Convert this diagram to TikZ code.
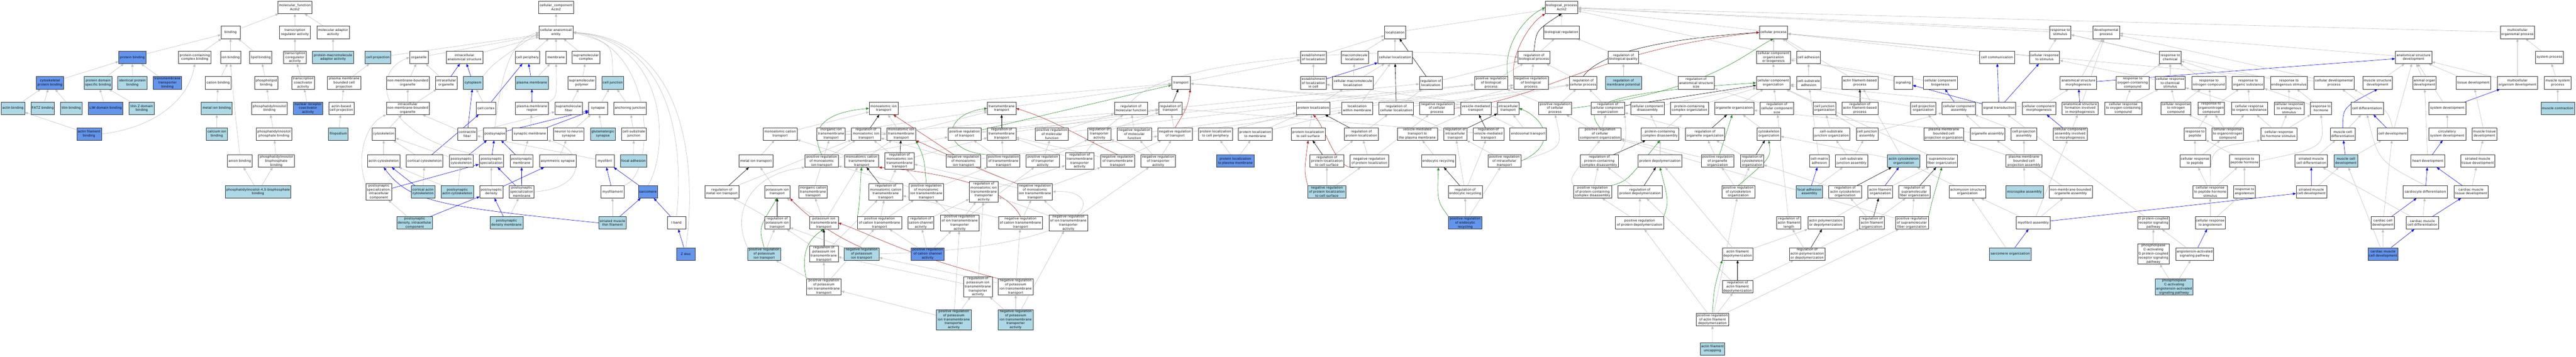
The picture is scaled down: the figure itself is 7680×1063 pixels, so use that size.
\documentclass[tikz,border=0pt]{standalone}
\usepackage{fontspec}
\newfontfamily\nf[LetterSpace=6]{Liberation Sans}
\usetikzlibrary{arrows.meta,backgrounds}
\definecolor{lb}{HTML}{ADD8E6}
\definecolor{db}{HTML}{6495ED}
\definecolor{egc}{HTML}{BEBEBE}
\definecolor{ebc}{HTML}{0000FF}
\definecolor{egn}{HTML}{228B22}
\definecolor{erc}{HTML}{B22222}
\tikzset{
 nb/.style={draw=black!80, line width=0.9pt, inner xsep=1pt, inner ysep=1.5pt, minimum height=37pt, align=center, font=\nf\fontsize{10}{12}\selectfont},
 W/.style={nb,fill=white}, L/.style={nb,fill=lb}, D/.style={nb,fill=db},
 ar/.style={line width=0.9pt,-{Triangle[length=9pt,width=7pt]}},
 eg/.style={ar,draw=egc}, ebl/.style={ar,draw=ebc}, ebk/.style={ar,draw=black},
 egr/.style={ar,draw=egn}, erd/.style={ar,draw=erc}
}
\newcommand\Nd[5]{\node[#5,minimum width=#4pt] (#1) at (#2,#3)}
\newcommand\EGy[2]{\draw[eg] (#1) -- (#2);}
\newcommand\EBl[2]{\draw[ebl] (#1) -- (#2);}
\newcommand\EBk[2]{\draw[ebk] (#1) -- (#2);}
\newcommand\EGn[2]{\draw[egr] (#1) -- (#2);}
\newcommand\ERd[2]{\draw[erd] (#1) -- (#2);}
\begin{document}
\begin{tikzpicture}[x=1pt,y=-1pt]
\useasboundingbox (0,0) rectangle (7680,1063);
% ---------- MF ----------
\Nd{mf}{879}{22}{101}{W}{molecular\_function\\Actn2};
\Nd{bind}{687.4}{96.5}{56.3}{W}{binding};
\Nd{trra}{879.2}{96.5}{91.4}{W}{transcription\\regulator activity};
\Nd{moad}{993}{96.5}{97}{W}{molecular adaptor\\activity};
\Nd{pb}{394.7}{171}{80.8}{D}{protein binding};
\Nd{pcb}{580.6}{171}{96.8}{W}{protein-containing\\complex binding};
\Nd{ionb}{687.4}{171}{60.5}{W}{ion binding};
\Nd{lipb}{777.6}{171}{66.1}{W}{lipid binding};
\Nd{trcr}{879.2}{171}{67.7}{W}{transcription\\coregulator\\activity};
\Nd{pmaa}{993}{171}{122.5}{L}{protein-macromolecule\\adaptor activity};
\Nd{cpb}{148.8}{247}{80.4}{D}{cytoskeletal\\protein binding};
\Nd{pdsb}{292.3}{247}{82.5}{L}{protein domain\\specific binding};
\Nd{ipb}{394.9}{247}{87}{L}{identical protein\\binding};
\Nd{ttb}{499.3}{247}{84.6}{D}{transmembrane\\transporter\\binding};
\Nd{catb}{650.4}{247}{76.4}{W}{cation binding};
\Nd{phlb}{793.9}{247}{68.6}{W}{phospholipid\\binding};
\Nd{trca}{903.7}{247}{67.8}{W}{transcription\\coactivator\\activity};
\Nd{actb}{38.6}{323}{70.6}{L}{actin binding};
\Nd{fatz}{127.2}{323}{68.9}{L}{FATZ binding};
\Nd{titb}{212.3}{323}{64.5}{L}{titin binding};
\Nd{limb}{314.7}{323}{102.8}{D}{LIM domain binding};
\Nd{tzb}{422.5}{323}{75.9}{L}{titin Z domain\\binding};
\Nd{mib}{646.1}{323}{92.2}{L}{metal ion binding};
\Nd{pib}{803.3}{323}{106.9}{W}{phosphatidylinositol\\binding};
\Nd{nrca}{918.4}{323}{86.5}{D}{nuclear receptor\\coactivator\\activity};
\Nd{cab}{646.4}{399.5}{62.5}{L}{calcium ion\\binding};
\Nd{afb}{265.5}{399.5}{73.8}{D}{actin filament\\binding};
\Nd{pipb}{816.8}{399.5}{106.9}{W}{phosphatidylinositol\\phosphate binding};
\Nd{anb}{714.9}{480}{73}{W}{anion binding};
\Nd{pip2b}{823.9}{480}{107.4}{W}{phosphatidylinositol\\bisphosphate\\binding};
\Nd{pi45b}{769.4}{572}{195.9}{L}{phosphatidylinositol-4,5-bisphosphate\\binding};
% ---------- CC ----------
\Nd{cc}{1657.8}{22}{103.3}{W}{cellular\_component\\Actn2};
\Nd{cae}{1657.6}{96.5}{100.5}{W}{cellular anatomical\\entity};
\Nd{cproj}{1126.6}{171}{75.9}{L}{cell projection};
\Nd{org}{1249}{171}{55.5}{W}{organelle};
\Nd{ias}{1384.7}{171}{109}{W}{intracellular\\anatomical structure};
\Nd{cper}{1572.7}{171}{72.7}{W}{cell periphery};
\Nd{memb}{1658}{171}{60.4}{W}{membrane};
\Nd{smc}{1747}{171}{82.5}{W}{supramolecular\\complex};
\Nd{pmbcp}{1025.9}{247}{99.2}{W}{plasma membrane\\bounded cell\\projection};
\Nd{nmbo}{1215.5}{247}{127.4}{W}{non-membrane-bounded\\organelle};
\Nd{iorg}{1330.4}{247}{64}{W}{intracellular\\organelle};
\Nd{cyto}{1410.2}{247}{58}{L}{cytoplasm};
\Nd{pm}{1585.7}{247}{98.8}{L}{plasma membrane};
\Nd{smp}{1734.7}{247}{82.4}{W}{supramolecular\\polymer};
\Nd{cj}{1826.8}{247}{65.7}{L}{cell junction};
\Nd{abcp}{1017.6}{323}{75.9}{W}{actin-based\\cell projection};
\Nd{inmbo}{1215.5}{323}{127.4}{W}{intracellular\\non-membrane-bounded\\organelle};
\Nd{ccor}{1449.2}{323}{57.6}{W}{cell cortex};
\Nd{pmr}{1585.9}{323}{99.2}{W}{plasma membrane\\region};
\Nd{smf}{1695.7}{323}{82}{W}{supramolecular\\fiber};
\Nd{syn}{1782.9}{323}{55.5}{W}{synapse};
\Nd{anj}{1878.4}{323}{97.1}{W}{anchoring junction};
\Nd{filo}{1008.6}{399.5}{58}{L}{filopodium};
\Nd{cysk}{1143.9}{399.5}{69.8}{W}{cytoskeleton};
\Nd{cfib}{1392.9}{399.5}{57.5}{W}{contractile\\fiber};
\Nd{psyn}{1475.3}{399.5}{67.4}{W}{postsynapse};
\Nd{synm}{1579.8}{399.5}{104.9}{W}{synaptic membrane};
\Nd{n2n}{1695.7}{399.5}{91}{W}{neuron to neuron\\synapse};
\Nd{glut}{1797.4}{399.5}{74.7}{L}{glutamatergic\\synapse};
\Nd{csj}{1889.6}{399.5}{73.1}{W}{cell-substrate\\junction};
\Nd{acsk}{1143.9}{480}{97.6}{W}{actin cytoskeleton};
\Nd{ccsk}{1265.5}{480}{109.8}{W}{cortical cytoskeleton};
\Nd{pscsk}{1374.7}{480}{70.2}{W}{postsynaptic\\cytoskeleton};
\Nd{pss}{1464.9}{480}{73.4}{W}{postsynaptic\\specialization};
\Nd{psm}{1555.1}{480}{67.8}{W}{postsynaptic\\membrane};
\Nd{asyn}{1662.9}{480}{109.4}{W}{asymmetric synapse};
\Nd{myof}{1803.3}{480}{55.5}{W}{myofibril};
\Nd{fadh}{1888.6}{480}{78.4}{L}{focal adhesion};
\Nd{pssic}{1129.4}{572}{76.8}{W}{postsynaptic\\specialization,\\intracellular\\component};
\Nd{cacsk}{1260.9}{572}{70.3}{L}{cortical actin\\cytoskeleton};
\Nd{psacsk}{1363.3}{572}{97.1}{L}{postsynaptic\\actin cytoskeleton};
\Nd{psd}{1464.9}{572}{68.6}{W}{postsynaptic\\density};
\Nd{pssm}{1555.3}{572}{73.8}{W}{postsynaptic\\specialization\\membrane};
\Nd{myofil}{1826.1}{572}{68.6}{W}{myofilament};
\Nd{sarc}{1931.7}{572}{56.7}{D}{sarcomere};
\Nd{psdic}{1236.1}{664.5}{107.4}{L}{postsynaptic\\density, intracellular\\component};
\Nd{psdm}{1510}{664.5}{99.2}{L}{postsynaptic\\density membrane};
\Nd{smtf}{1826.1}{664.5}{82.4}{L}{striated muscle\\thin filament};
\Nd{iband}{2016.8}{664.5}{55.5}{W}{I band};
\Nd{zdisc}{2044.5}{757}{55.5}{D}{Z disc};
% ---------- BP transport ----------
\Nd{trn}{3520.8}{247}{55.6}{W}{transport};
\Nd{mit}{2634.5}{323}{86.2}{W}{monoatomic ion\\transport};
\Nd{tmt}{2986.2}{323}{84.9}{W}{transmembrane\\transport};
\Nd{rmf}{3371.8}{323}{98.8}{W}{regulation of\\molecular function};
\Nd{rtr}{3489}{323}{68.6}{W}{regulation of\\transport};
\Nd{mct}{2325.7}{399.5}{101.2}{W}{monoatomic cation\\transport};
\Nd{iitt}{2477.6}{399.5}{84.9}{W}{inorganic ion\\transmembrane\\transport};
\Nd{rmit}{2581.9}{399.5}{86.9}{W}{regulation of\\monoatomic ion\\transport};
\Nd{mitt}{2686.8}{399.5}{86.1}{W}{monoatomic ion\\transmembrane\\transport};
\Nd{prt}{2875.5}{399.5}{98}{W}{positive regulation\\of transport};
\Nd{rtmt}{2986.2}{399.5}{84.9}{W}{regulation of\\transmembrane\\transport};
\Nd{prmf}{3135.9}{399.5}{98.8}{W}{positive regulation\\of molecular\\function};
\Nd{rta}{3277.4}{399.5}{68.1}{W}{regulation of\\transporter\\activity};
\Nd{nrmf}{3382}{399.5}{102.9}{W}{negative regulation\\of molecular\\function};
\Nd{nrt}{3503.3}{399.5}{102.9}{W}{negative regulation\\of transport};
\Nd{plcp}{3623.5}{399.5}{100.8}{W}{protein localization\\to cell periphery};
\Nd{plm}{3742.3}{399.5}{100.9}{W}{protein localization\\to membrane};
\Nd{mitr}{2253.7}{480}{100.8}{W}{metal ion transport};
\Nd{prmit}{2449.8}{480}{98.8}{W}{positive regulation\\of monoatomic\\ion transport};
\Nd{mctt}{2568.8}{480}{101.6}{W}{monoatomic cation\\transmembrane\\transport};
\Nd{rmitt}{2681.7}{480}{86.5}{W}{regulation of\\monoatomic ion\\transmembrane\\transport};
\Nd{nrmit}{2872.3}{480}{102.1}{W}{negative regulation\\of monoatomic\\ion transport};
\Nd{prtmt}{2991.6}{480}{98.4}{W}{positive regulation\\of transmembrane\\transport};
\Nd{prta}{3108.6}{480}{98.8}{W}{positive regulation\\of transporter\\activity};
\Nd{rtta}{3218.8}{480}{84.9}{W}{regulation of\\transmembrane\\transporter\\activity};
\Nd{nrtmt}{3332}{480}{102.5}{W}{negative regulation\\of transmembrane\\transport};
\Nd{nrta}{3453}{480}{102.9}{W}{negative regulation\\of transporter\\activity};
\Nd{plpm}{3683}{480}{113.1}{D}{protein localization\\to plasma membrane};
\Nd{rmitr}{2152}{572}{100.8}{W}{regulation of\\metal ion transport};
\Nd{kit}{2317.1}{572}{75.9}{W}{potassium ion\\transport};
\Nd{ictt}{2423.8}{572}{85.3}{W}{inorganic cation\\transmembrane\\transport};
\Nd{rmctt}{2640.6}{572}{100.8}{W}{regulation of\\monoatomic cation\\transmembrane\\transport};
\Nd{prmitt}{2761.6}{572}{102.9}{W}{positive regulation\\of monoatomic\\ion transmembrane\\transport};
\Nd{rmitta}{2933}{572}{86.5}{W}{regulation of\\monoatomic ion\\transmembrane\\transporter\\activity};
\Nd{nrmitt}{3085.7}{572}{103.7}{W}{negative regulation\\of monoatomic\\ion transmembrane\\transport};
\Nd{rkit}{2317.1}{664.5}{75.9}{W}{regulation of\\potassium ion\\transport};
\Nd{kitt}{2456.1}{664.5}{85.3}{W}{potassium ion\\transmembrane\\transport};
\Nd{prctt}{2622.2}{664.5}{131.1}{W}{positive regulation\\of cation transmembrane\\transport};
\Nd{rcca}{2745.1}{664.5}{78}{W}{regulation of\\cation channel\\activity};
\Nd{pritta}{2861.2}{664.5}{115.9}{W}{positive regulation\\of ion transmembrane\\transporter\\activity};
\Nd{nrctt}{3042.6}{664.5}{131.1}{W}{negative regulation\\of cation transmembrane\\transport};
\Nd{nritta}{3185.3}{664.5}{116}{W}{negative regulation\\of ion transmembrane\\transporter\\activity};
\Nd{prkit}{2278.3}{757}{97.9}{L}{positive regulation\\of potassium\\ion transport};
\Nd{rkitt}{2456.1}{757}{85.3}{W}{regulation of\\potassium ion\\transmembrane\\transport};
\Nd{nrkit}{2568.9}{757}{103.8}{L}{negative regulation\\of potassium\\ion transport};
\Nd{prcca}{2765.7}{757}{98.8}{D}{positive regulation\\of cation channel\\activity};
\Nd{prkitt}{2456.1}{855}{103.3}{W}{positive regulation\\of potassium\\ion transmembrane\\transport};
\Nd{rkitta}{2915.5}{855}{85}{W}{regulation of\\potassium ion\\transmembrane\\transporter\\activity};
\Nd{nrkitt}{3028.1}{855}{103.7}{W}{negative regulation\\of potassium\\ion transmembrane\\transport};
\Nd{prkitta}{2843.6}{953}{103.7}{L}{positive regulation\\of potassium\\ion transmembrane\\transporter\\activity};
\Nd{nrkitta}{3028.1}{953}{103.7}{L}{negative regulation\\of potassium\\ion transmembrane\\transporter\\activity};
% ---------- localization ----------
\Nd{loc}{4159}{96.5}{62.4}{W}{localization};
\Nd{eloc}{3915.7}{171}{76.3}{W}{establishment\\of localization};
\Nd{mml}{4039}{171}{82}{W}{macromolecule\\localization};
\Nd{cloc}{4159}{171}{102.4}{W}{cellular localization};
\Nd{elic}{3915.7}{247}{76.3}{W}{establishment\\of localization\\in cell};
\Nd{cmml}{4033.7}{247}{121.2}{W}{cellular macromolecule\\localization};
\Nd{rloc}{4265.5}{247}{68.2}{W}{regulation of\\localization};
\Nd{prbp}{4445.3}{247}{98.8}{W}{positive regulation\\of biological\\process};
\Nd{ploc}{3914.9}{323}{100.8}{W}{protein localization};
\Nd{lwm}{4045.9}{323}{92.6}{W}{localization\\within membrane};
\Nd{rcloc}{4162.9}{323}{102.9}{W}{regulation of\\cellular localization};
\Nd{nrcp}{4284.1}{323}{102.8}{W}{negative regulation\\of cellular\\process};
\Nd{vmt}{4400}{323}{90.6}{W}{vesicle-mediated\\transport};
\Nd{ict}{4496.4}{323}{63.7}{W}{intracellular\\transport};
\Nd{plcs}{3900.2}{399.5}{100.8}{W}{protein localization\\to cell surface};
\Nd{rploc}{4058.6}{399.5}{100.8}{W}{regulation of\\protein localization};
\Nd{vmtpm}{4225.5}{399.5}{119.6}{W}{vesicle-mediated\\transport to\\the plasma membrane};
\Nd{rict}{4338.6}{399.5}{68.2}{W}{regulation of\\intracellular\\transport};
\Nd{rvmt}{4437.4}{399.5}{91.9}{W}{regulation of\\vesicle-mediated\\transport};
\Nd{rplcs}{3955.9}{480}{101.2}{W}{regulation of\\protein localization\\to cell surface};
\Nd{nrploc}{4082.3}{480}{113.9}{W}{negative regulation\\of protein localization};
\Nd{endr}{4288.4}{480}{101.6}{W}{endocytic recycling};
\Nd{prict}{4485.1}{480}{98.4}{W}{positive regulation\\of intracellular\\transport};
\Nd{nrplcs}{3956}{572}{113.5}{L}{negative regulation\\of protein localization\\to cell surface};
\Nd{rendr}{4368.2}{572}{101.2}{W}{regulation of\\endocytic recycling};
\Nd{prendr}{4368.2}{664.5}{98.8}{D}{positive regulation\\of endocytic\\recycling};
% ---------- regulation ----------
\Nd{bp}{4655.7}{22}{96.8}{W}{biological\_process\\Actn2};
\Nd{breg}{4655.1}{96.5}{107}{W}{biological regulation};
\Nd{rbp}{4573.3}{171}{94.3}{W}{regulation of\\biological process};
\Nd{rbq}{4840}{171}{90.6}{W}{regulation of\\biological quality};
\Nd{nrbp}{4564.1}{247}{102.8}{W}{negative regulation\\of biological\\process};
\Nd{rcp}{4720}{247}{82.4}{W}{regulation of\\cellular process};
\Nd{rmp}{4840}{247}{107}{L}{regulation of\\membrane potential};
\Nd{rass}{5056.7}{247}{108.6}{W}{regulation of\\anatomical structure\\size};
\Nd{prcp}{4636.1}{323}{98.4}{W}{positive regulation\\of cellular\\process};
\Nd{rcco}{4793.1}{323}{100.4}{W}{regulation of\\cellular component\\organization};
\Nd{ccd}{4911.8}{323}{100.4}{W}{cellular component\\disassembly};
\Nd{pcco}{5037}{323}{113.1}{W}{protein-containing\\complex organization};
\Nd{oo}{5170.2}{323}{116.8}{W}{organelle organization};
\Nd{endt}{4555.9}{399.5}{109.4}{W}{endosomal transport};
\Nd{prcco}{4770.2}{399.5}{125.7}{W}{positive regulation\\of cellular\\component organization};
\Nd{pccd}{4948.8}{399.5}{113.1}{W}{protein-containing\\complex disassembly};
\Nd{roo}{5083.3}{399.5}{117.5}{W}{regulation of\\organelle organization};
\Nd{rpccd}{4768.2}{480}{113.5}{W}{regulation of\\protein-containing\\complex disassembly};
\Nd{pdep}{4948.8}{480}{131}{W}{protein depolymerization};
\Nd{proo}{5120.4}{480}{97.2}{W}{positive regulation\\of organelle\\organization};
\Nd{prpccd}{4747.8}{572}{113.5}{W}{positive regulation\\of protein-containing\\complex disassembly};
\Nd{rpdep}{4889.4}{572}{131.4}{W}{regulation of\\protein depolymerization};
\Nd{prpdep}{4888.2}{664.5}{143.7}{W}{positive regulation\\of protein depolymerization};
\Nd{prafd}{5105.3}{953}{98}{W}{positive regulation\\of actin filament\\depolymerization};
\Nd{afu}{5105.5}{1040}{73}{L}{actin filament\\uncapping};
% ---------- cellular process ----------
\Nd{cp}{5287.4}{96.5}{83.3}{W}{cellular process};
\Nd{rts}{6142}{96.5}{63.7}{W}{response to\\stimulus};
\Nd{devp}{6279.2}{96.5}{80}{W}{developmental\\process};
\Nd{ccob}{5287.4}{171}{101.3}{W}{cellular component\\organization\\or biogenesis};
\Nd{cadh}{5391.9}{171}{70.3}{W}{cell adhesion};
\Nd{ccom}{5953.9}{171}{103.7}{W}{cell communication};
\Nd{crs}{6095.5}{171}{89.8}{W}{cellular response\\to stimulus};
\Nd{cco}{5286.5}{247}{101}{W}{cellular component\\organization};
\Nd{csadh}{5392.3}{247}{72.7}{W}{cell-substrate\\adhesion};
\Nd{afbp}{5544.9}{247}{107}{W}{actin filament-based\\process};
\Nd{sig}{5674.3}{247}{55.5}{W}{signaling};
\Nd{ccb}{5784.9}{247}{100.4}{W}{cellular component\\biogenesis};
\Nd{asm}{6196.3}{247}{108.6}{W}{anatomical structure\\morphogenesis};
\Nd{rocc}{6358}{247}{97.1}{W}{response to\\oxygen-containing\\compound};
\Nd{rccs}{5297.6}{323}{100.5}{W}{regulation of\\cellular component\\size};
\Nd{cjo}{5439.2}{323}{67}{W}{cell junction\\organization};
\Nd{rafbp}{5544.9}{323}{107}{W}{regulation of\\actin filament-based\\process};
\Nd{cpo}{5733.9}{323}{75.1}{W}{cell projection\\organization};
\Nd{cca}{5840}{323}{99.6}{W}{cellular component\\assembly};
\Nd{st}{5959.6}{323}{100.4}{W}{signal transduction};
\Nd{ccm}{6078.8}{323}{100.4}{W}{cellular component\\morphogenesis};
\Nd{asfm}{6201.3}{323}{106.9}{W}{anatomical structure\\formation involved\\in morphogenesis};
\Nd{crocc}{6330.2}{323}{110.2}{W}{cellular response\\to oxygen-containing\\compound};
\Nd{csko}{5273.5}{399.5}{70.2}{W}{cytoskeleton\\organization};
\Nd{csjo}{5460}{399.5}{110.2}{W}{cell-substrate\\junction organization};
\Nd{cja}{5566.2}{399.5}{64.5}{W}{cell junction\\assembly};
\Nd{pmbcpo}{5795.1}{399.5}{119.2}{W}{plasma membrane\\bounded cell\\projection organization};
\Nd{oa}{5925.7}{399.5}{102.8}{W}{organelle assembly};
\Nd{cpa}{6033.9}{399.5}{75.9}{W}{cell projection\\assembly};
\Nd{ccaim}{6171.8}{399.5}{100.4}{W}{cellular component\\assembly involved\\in morphogenesis};
\Nd{rcsko}{5223.7}{480}{68.6}{W}{regulation of\\cytoskeleton\\organization};
\Nd{cmadh}{5424.1}{480}{59.6}{W}{cell-matrix\\adhesion};
\Nd{csja}{5520}{480}{96.4}{W}{cell-substrate\\junction assembly};
\Nd{acsko}{5675.5}{480}{97}{L}{actin cytoskeleton\\organization};
\Nd{smfo}{5789.4}{480}{93}{W}{supramolecular\\fiber organization};
\Nd{pmbcpa}{6034.3}{480}{107.8}{W}{plasma membrane\\bounded cell\\projection assembly};
\Nd{prcsko}{5182.5}{572}{98.7}{W}{positive regulation\\of cytoskeleton\\organization};
\Nd{faa}{5394.3}{572}{78.4}{L}{focal adhesion\\assembly};
\Nd{racsko}{5500.8}{572}{97.2}{W}{regulation of\\actin cytoskeleton\\organization};
\Nd{afo}{5605.7}{572}{73.4}{W}{actin filament\\organization};
\Nd{rsmfo}{5707}{572}{93.1}{W}{regulation of\\supramolecular\\fiber organization};
\Nd{aso}{5865.7}{572}{110.2}{W}{actomyosin structure\\organization};
\Nd{msa}{6035.5}{572}{111.8}{L}{microspike assembly};
\Nd{nmboa}{6173.5}{572}{128.2}{W}{non-membrane-bounded\\organelle assembly};
\Nd{rafl}{5333}{664.5}{71.9}{W}{regulation of\\actin filament\\length};
\Nd{apd}{5443.3}{664.5}{107.7}{W}{actin polymerization\\or depolymerization};
\Nd{rafo}{5580.9}{664.5}{74.3}{W}{regulation of\\actin filament\\organization};
\Nd{prsmfo}{5700}{664.5}{98.8}{W}{positive regulation\\of supramolecular\\fiber organization};
\Nd{mfa}{6061.6}{664.5}{100.4}{W}{myofibril assembly};
\Nd{gpcr}{6420}{664.5}{93.9}{W}{G protein-coupled\\receptor signaling\\pathway};
\Nd{afd}{5180.4}{757}{91.4}{W}{actin filament\\depolymerization};
\Nd{rapd}{5387.8}{757}{106.1}{W}{regulation of\\actin polymerization\\or depolymerization};
\Nd{sarco}{5993}{757}{123.3}{L}{sarcomere organization};
\Nd{plcg}{6420}{757}{93.9}{W}{phospholipase\\C-activating\\G protein-coupled\\receptor signaling\\pathway};
\Nd{rafd}{5180.4}{855}{91.4}{W}{regulation of\\actin filament\\depolymerization};
% ---------- development / response ----------
\Nd{mop}{7505.3}{96.5}{102.8}{W}{multicellular\\organismal process};
\Nd{rchem}{6470.2}{171}{63.6}{W}{response to\\chemical};
\Nd{asd}{7195.5}{171}{108.6}{W}{anatomical structure\\development};
\Nd{sysp}{7600.8}{171}{83.2}{W}{system process};
\Nd{crcs}{6470.2}{247}{89.8}{W}{cellular response\\to chemical\\stimulus};
\Nd{rnc}{6585.3}{247}{101.2}{W}{response to\\nitrogen compound};
\Nd{ros}{6702.5}{247}{95.5}{W}{response to\\organic substance};
\Nd{res}{6824.1}{247}{110.2}{W}{response to\\endogenous stimulus};
\Nd{cdp}{6958.4}{247}{119.2}{W}{cellular developmental\\process};
\Nd{msd}{7088.2}{247}{88.1}{W}{muscle structure\\development};
\Nd{aod}{7228.2}{247}{69.4}{W}{animal organ\\development};
\Nd{td}{7373.9}{247}{102.9}{W}{tissue development};
\Nd{mod}{7505.3}{247}{120.8}{W}{multicellular\\organism development};
\Nd{msp}{7625.3}{247}{80}{W}{muscle system\\process};
\Nd{crnc}{6487.3}{323}{89.8}{W}{cellular response\\to nitrogen\\compound};
\Nd{ronc}{6592.3}{323}{79.1}{W}{response to\\organonitrogen\\compound};
\Nd{cros}{6706.1}{323}{107.8}{W}{cellular response\\to organic substance};
\Nd{cres}{6824.5}{323}{89.8}{W}{cellular response\\to endogenous\\stimulus};
\Nd{rhor}{6919.6}{323}{62.8}{W}{response to\\hormone};
\Nd{cdiff}{7057.2}{323}{96.3}{W}{cell differentiation};
\Nd{sysd}{7295.9}{323}{110.2}{W}{system development};
\Nd{mcon}{7625.3}{323}{99.6}{L}{muscle contraction};
\Nd{rpep}{6543.7}{399.5}{63.7}{W}{response to\\peptide};
\Nd{cronc}{6641.7}{399.5}{93.1}{W}{cellular response\\to organonitrogen\\compound};
\Nd{crhs}{6793.9}{399.5}{108.6}{W}{cellular response\\to hormone stimulus};
\Nd{mcd}{6984.5}{399.5}{75}{W}{muscle cell\\differentiation};
\Nd{cdev}{7133.1}{399.5}{89.8}{W}{cell development};
\Nd{csd}{7295.9}{399.5}{110.2}{W}{circulatory\\system development};
\Nd{mtd}{7407}{399.5}{74.3}{W}{muscle tissue\\development};
\Nd{crpep}{6544.1}{480}{90.6}{W}{cellular response\\to peptide};
\Nd{rph}{6691.4}{480}{89.8}{W}{response to\\peptide hormone};
\Nd{smcd}{6890.6}{480}{96.4}{W}{striated muscle\\cell differentiation};
\Nd{mcdev}{6993.9}{480}{69.4}{L}{muscle cell\\development};
\Nd{hd}{7238}{480}{100.4}{W}{heart development};
\Nd{smtd}{7386.6}{480}{102.1}{W}{striated muscle\\tissue development};
\Nd{crphs}{6589.4}{572}{102.8}{W}{cellular response\\to peptide hormone\\stimulus};
\Nd{rang}{6691.5}{572}{63.7}{W}{response to\\angiotensin};
\Nd{smcdev}{6891}{572}{90.6}{W}{striated muscle\\cell development};
\Nd{cardd}{7230.6}{572}{131.4}{W}{cardiocyte differentiation};
\Nd{cmtd}{7367}{572}{102.1}{W}{cardiac muscle\\tissue development};
\Nd{crang}{6589.4}{664.5}{89.8}{W}{cellular response\\to angiotensin};
\Nd{ccdev}{7104.1}{664.5}{69.4}{W}{cardiac cell\\development};
\Nd{cmcd}{7222}{664.5}{96.3}{W}{cardiac muscle\\cell differentiation};
\Nd{aasp}{6542.9}{757}{112.7}{W}{angiotensin-activated\\signaling pathway};
\Nd{cmcdev}{7104.5}{757}{89.8}{D}{cardiac muscle\\cell development};
\Nd{plcaa}{6481.7}{855}{112.7}{L}{phospholipase\\C-activating\\angiotensin-activated\\signaling pathway};
% ================= EDGES =================
\begin{pgfonlayer}{background}
\fill[white] (0,0) rectangle (7680,1063);
% MF
\EGy{bind}{mf} \EGy{trra}{mf} \EGy{moad}{mf}
\EGy{pb}{bind} \EGy{pcb}{bind} \EGy{ionb}{bind} \EGy{lipb}{bind}
\EGy{trcr}{trra} \EGy{pmaa}{moad}
\EGy{cpb}{pb} \EGy{pdsb}{pb} \EGy{ipb}{pb} \EGy{ttb}{pb}
\EGy{catb}{ionb} \EGy{phlb}{lipb} \EGy{trca}{trcr}
\EGy{actb}{cpb} \EGy{fatz}{cpb} \EGy{titb}{cpb}
\EGy{limb}{pdsb} \EGy{tzb}{pdsb}
\EGy{mib}{catb} \EGy{pib}{phlb} \EGy{nrca}{trca}
\EGy{cab}{mib} \EGy{afb}{actb}
\draw[eg] (afb.east) .. controls (470,380) and (565,290) .. (pcb.south);
\EGy{pipb}{pib} \EGy{pip2b}{pipb}
\draw[eg] (anb.north) .. controls (700,330) .. (ionb.south);
\EGy{pi45b}{anb} \EGy{pi45b}{pip2b}
% CC
\EGy{cae}{cc}
\EGy{cproj}{cae} \EGy{org}{cae} \EGy{ias}{cae} \EGy{cper}{cae} \EGy{memb}{cae} \EGy{smc}{cae}
\draw[eg] (cyto.north east) .. controls (1470,190) .. (cae.west);
\draw[eg] (cj.north) .. controls (1826,130) .. (cae.east);
\draw[eg] (psyn.north) .. controls (1495,220) and (1520,120) .. (cae.west);
\EGy{pmbcp}{cproj} \EGy{abcp}{pmbcp} \EGy{filo}{abcp}
\EGy{nmbo}{org} \EGy{inmbo}{nmbo} \EGy{inmbo}{iorg} \EGy{cysk}{inmbo}
\EGy{iorg}{org} \EBl{iorg}{ias} \EBl{cyto}{ias}
\EBl{pm}{cper} \EGy{pm}{memb} \EBl{ccor}{cper} \EGy{ccor}{cyto}
\EBl{cfib}{cyto} \EBl{pmr}{pm}
\draw[eg] (pmr.north east) .. controls (1660,290) .. (memb.south);
\EGy{smp}{smc} \EGy{smf}{smp} \EGy{cfib}{smf} \EGy{cfib}{inmbo}
\EGy{syn}{cj} \EGy{anj}{cj} \EGy{csj}{anj} \EGy{fadh}{csj}
\EBl{psyn}{syn} \EBl{synm}{syn} \EGy{synm}{pmr} \EGy{n2n}{syn} \EGy{glut}{syn}
\EGy{acsk}{cysk} \EGy{ccsk}{cysk} \EBl{ccsk}{ccor} \EGy{pscsk}{cysk} \EBl{pscsk}{psyn}
\EBl{pss}{psyn} \EBl{psm}{psyn} \EGy{psm}{synm}
\draw[eg] (pss.north west) .. controls (1150,420) and (1090,220) .. (org.west);
\EGy{asyn}{n2n} \EGy{myof}{cfib}
\EGy{cacsk}{ccsk} \EBl{cacsk}{acsk}
\EBl{pssic}{pss}
\draw[eg] (pssic.north west) .. controls (1060,470) and (1090,370) .. (inmbo.south west);
\EGy{psacsk}{pscsk} \EGy{psacsk}{acsk}
\EGy{psd}{pss} \EBl{psd}{asyn}
\EBl{pssm}{pss} \EBl{pssm}{psm}
\draw[eg] (pssm.east) .. controls (1760,560) and (1740,440) .. (synm.south east);
\EBl{myofil}{myof} \EBl{sarc}{myof}
\draw[eg] (myofil.north east) .. controls (1957,520) and (1957,130) .. (cae.east);
\draw[eg] (sarc.north) .. controls (1995,450) and (1995,125) .. (cae.east);
\draw[eg] (iband.north) .. controls (2034,500) and (2034,120) .. (cae.east);
\draw[eg] (zdisc.north) .. controls (2073,560) and (2073,115) .. (cae.east);
\EBl{psdic}{psd} \EGy{psdic}{pssic}
\EBl{psdm}{psd} \EGy{psdm}{pssm}
\EGy{smtf}{myofil} \EBl{smtf}{sarc}
\draw[ebl] (smtf.west) .. controls (1300,615) and (1220,600) .. (acsk.south);
\EBl{iband}{sarc} \EBl{zdisc}{iband}
% BP transport
\EGy{mitr}{mct} \EBk{rmitr}{mitr} \EGy{rmitr}{rmit} \EGy{kit}{mitr}
\EGy{ictt}{iitt} \EGy{mct}{mit}
\draw[egr] (prmit.north) .. controls (2410,380) and (2460,335) .. (mit.west);
\EGy{iitt}{mitt} \EGy{iitt}{tmt}
\EBk{rmit}{mit} \EGy{rmit}{rtr} \EGy{prmit}{rmit} \EGy{prmit}{prt}
\EGy{mctt}{mct} \EGy{mctt}{mitt}
\EGy{kitt}{kit} \EGy{kitt}{ictt} \EGy{kitt}{mctt}
\EBk{rkit}{kit} \EGy{rkit}{rmitr}
\draw[egr] (prkit.north) .. controls (2262,680) .. (kit.south);
\EGy{prkit}{rkit}
\draw[eg] (prkit.north west) .. controls (2180,640) and (2230,520) .. (prmit.south west);
\EBk{rkitt}{kitt} \EGy{rkitt}{rkit} \EGy{rkitt}{rmctt}
\draw[erd] (nrkit.north) .. controls (2480,700) and (2400,640) .. (kit.south east);
\EGy{nrkit}{rkit}
\draw[eg] (nrkit.east) .. controls (3300,740) and (3300,560) .. (nrmitt.east);
\draw[egr] (prkitt.north west) .. controls (2390,770) and (2400,720) .. (kitt.south);
\EGy{prkitt}{rkitt} \EGy{prkitt}{prkit} \EGy{prkitt}{prctt}
\EGy{prkitta}{prkitt} \EGy{rkitta}{rkitt}
\draw[erd] (nrkitt.north west) .. controls (2700,760) and (2600,700) .. (kitt.east);
\EGy{nrkitt}{nrkit}
\EBk{rmitt}{mitt} \EGy{rmitt}{rmit} \EGy{rmitt}{rtmt}
\draw[egr] (prmitt.north) .. controls (2755,470) .. (mitt.south east);
\EGy{prmitt}{rmitt} \EGy{prmitt}{prmit} \EGy{prmitt}{prtmt}
\EBk{rmctt}{mctt} \EGy{rmctt}{rmitt}
\draw[egr] (prctt.north west) .. controls (2565,600) and (2565,530) .. (mctt.south);
\EGy{prctt}{rmctt} \EGy{prctt}{prmitt}
\EGy{rcca}{rmitta}
\EGy{pritta}{rmitta} \EGy{pritta}{prmitt} \EGy{pritta}{prta}
\EGy{rmitta}{rtta}
\EGy{prcca}{rcca} \EGy{prcca}{pritta} \EGy{prcca}{prctt}
\draw[erd] (nrmitt.north west) .. controls (2950,520) and (2800,450) .. (mitt.south east);
\draw[erd] (nrctt.north) .. controls (2990,540) and (2750,510) .. (mctt.south east);
\ERd{nrmit}{mit}
\EGy{nrctt}{nrmitt} \EGy{nrctt}{rmctt}
\EGy{nritta}{nrmitt} \EGy{nritta}{rmitta}
\EGy{nrmitt}{rmitt} \EGy{nrmitt}{nrmit} \EGy{nrmitt}{nrtmt}
\EGy{nrmit}{rmit} \EGy{nrmit}{nrt}
\draw[egr] (prtmt.north west) .. controls (2800,450) and (2810,340) .. (tmt.west);
\EGy{prtmt}{rtmt} \EGy{prtmt}{prt}
\EBk{rtmt}{tmt} \EGy{rtmt}{rtr}
\EGy{prt}{rtr} \EGn{prt}{trn}
\EGy{prta}{prmf} \EGy{prta}{rta}
\EGy{rtta}{rta} \EGy{rtta}{rtmt}
\EGy{nrtmt}{nrt} \EGy{nrtmt}{rtmt}
\draw[erd] (nrtmt.north) .. controls (3260,430) and (3150,360) .. (tmt.east);
\EGy{rkitta}{rmitta} \EGy{nrkitt}{nrctt}
\EGy{prkitta}{rkitta} \EGy{prkitta}{pritta}
\EGy{nrkitta}{rkitta} \EGy{nrkitta}{nrkitt} \EGy{nrkitta}{nritta}
\EGy{mitt}{mit} \EGy{mitt}{tmt}
\EGy{mit}{trn} \EGy{tmt}{trn}
\EGy{trn}{eloc}
\draw[eg] (rmf.north) .. controls (3500,150) and (4300,140) .. (rbp.west);
\EBk{rtr}{trn}
\draw[erd] (nrt.north) .. controls (3540,320) .. (trn.south east);
\EGy{rtr}{rloc}
\EGy{rta}{rmf} \EGy{rta}{rtr}
\EGy{nrmf}{rmf} \EGy{nrmf}{nrbp}
\EGy{nrt}{rtr} \EGy{nrt}{nrbp}
\EGy{prmf}{rmf} \EGy{prmf}{prbp} \EGy{prt}{prbp}
\EGy{plcp}{ploc} \EGy{plm}{ploc} \EGy{plm}{lwm}
\EGy{plpm}{plcp} \EGy{plpm}{plm}
\EGy{nrta}{rta} \EGy{nrta}{nrmf} \EGy{nrta}{nrt}
\EGy{nritta}{nrta}
% localization
\EGy{eloc}{loc} \EGy{mml}{loc} \EGy{cloc}{loc} \EBk{rloc}{loc}
\EGy{elic}{eloc} \EBl{elic}{cloc}
\EGy{cmml}{mml} \EGy{cmml}{cloc}
\EGy{rloc}{rbp}
\EGy{ploc}{cmml} \EGy{lwm}{cloc}
\EBk{rcloc}{cloc} \EGy{rcloc}{rloc}
\EGy{nrcp}{nrbp} \EGy{nrcp}{rcp}
\EGy{vmt}{trn} \EGy{ict}{elic} \EGy{ict}{trn}
\EGy{plcs}{ploc} \EBk{rploc}{ploc} \EGy{rploc}{rcloc}
\EGy{vmtpm}{vmt}
\EBk{rict}{ict} \EGy{rict}{rcloc}
\EBk{rvmt}{vmt} \EGy{rvmt}{rtr}
\EBk{rplcs}{plcs} \EGy{rplcs}{rploc}
\draw[erd] (nrploc.north) .. controls (4000,580) and (3960,390) .. (ploc.south);
\EGy{nrploc}{rploc} \EGy{nrploc}{nrcp}
\EGy{endr}{vmtpm}
\EGy{prict}{rict}
\draw[egr] (prict.east) .. controls (4650,430) and (4600,350) .. (ict.east);
\draw[eg] (prict.east) .. controls (4660,440) .. (prcp.south);
\draw[erd] (nrplcs.north west) .. controls (3888,510) .. (plcs.south);
\EGy{nrplcs}{rplcs} \EGy{nrplcs}{nrploc}
\EBk{rendr}{endr} \EGy{rendr}{rict} \EGy{rendr}{rvmt}
\draw[egr] (prendr.north west) .. controls (4285,600) .. (endr.south);
\EGy{prendr}{rendr} \EGy{prendr}{prict}
\EGy{rcloc}{rcp}
\EGy{loc}{bp}
% regulation
\EGy{breg}{bp} \EGy{rbp}{breg}
\draw[ebk] (rbp.north) .. controls (4580,90) .. (bp.south);
\draw[erd] (nrbp.north west) .. controls (4505,160) and (4560,70) .. (bp.south west);
\draw[egr] (prbp.north east) .. controls (4480,140) and (4540,55) .. (bp.west);
\EGy{nrbp}{rbp} \EGy{prbp}{rbp}
\EGy{rbq}{breg} \EGy{rcp}{rbp}
\draw[ebk] (rcp.north) .. controls (4760,170) and (4900,120) .. (cp.west);
\draw[erd] (nrcp.east) .. controls (4600,300) and (4750,150) .. (cp.west);
\EGy{rmp}{rbq} \EGy{rass}{rbq}
\EGy{prcp}{rcp} \EGy{prcp}{prbp}
\draw[egr] (prcp.east) .. controls (5100,270) and (5200,160) .. (cp.south);
\EGy{rcco}{rcp} \EBk{rcco}{cco}
\EGy{ccd}{cco} \EGy{pcco}{cco}
\EGy{pccd}{ccd} \EGy{pccd}{pcco}
\EGy{prcco}{rcco} \EGy{prcco}{prcp}
\draw[egr] (prcco.north) .. controls (4710,310) and (4800,275) .. (cco.west);
\EBk{roo}{oo} \EGy{roo}{rcco}
\EGy{endt}{ict} \EGy{endt}{vmt}
\EBk{rpccd}{pccd}
\draw[eg] (rpccd.north east) .. controls (4850,420) .. (rcco.south east);
\EGy{pdep}{pccd}
\EGy{proo}{roo} \EGy{proo}{prcco} \EGn{proo}{oo}
\EGy{prpccd}{rpccd}
\draw[egr] (prpccd.north east) .. controls (4850,540) .. (pccd.south);
\draw[eg] (prpccd.north west) .. controls (4680,530) .. (prcco.south);
\EBk{rpdep}{pdep} \EGy{rpdep}{rpccd}
\EGy{prpdep}{rpdep} \EGy{prpdep}{prpccd}
\draw[egr] (prpdep.north east) .. controls (4975,600) .. (pdep.south);
\EGy{prafd}{prpdep} \EGy{afu}{prafd}
% cellular process
\EGy{cp}{bp} \EGy{rts}{bp} \EGy{devp}{bp} \EGy{mop}{bp}
\EGy{ccob}{cp} \EGy{cadh}{cp} \EGy{ccom}{cp} \EGy{crs}{rts} \EGy{crs}{cp}
\EGy{cco}{ccob} \EGy{csadh}{cadh} \EGy{afbp}{cp} \EGy{sig}{bp} \EGy{ccb}{ccob}
\EGy{asm}{devp} \EBl{asm}{asd}
\EGy{rocc}{rchem}
\EGy{rccs}{cco} \EGy{rccs}{rass}
\EGy{oo}{cco} \EGy{cjo}{cco} \EBk{rafbp}{afbp} \EGy{cpo}{cco} \EBl{cca}{ccb}
\EBl{st}{sig} \EBl{st}{ccom} \EBl{st}{crs}
\EGy{ccm}{asm} \EGy{ccm}{cco}
\EBl{asfm}{asm} \EGy{asfm}{devp}
\EGy{crocc}{rocc} \EGy{crocc}{crcs}
\EGy{csko}{oo} \EGy{csjo}{cjo} \EGy{cja}{cjo} \EGy{cja}{cca}
\EGy{pmbcpo}{cpo} \EGy{oa}{oo} \EGy{oa}{cca} \EGy{cpa}{cca}
\EBl{ccaim}{ccm} \EGy{ccaim}{asfm}
\EBk{rcsko}{csko} \EGy{rcsko}{roo}
\EGy{cmadh}{csadh}
\EGy{csja}{csjo} \EGy{csja}{cja}
\EGy{acsko}{csko} \EGy{acsko}{afbp}
\EGy{smfo}{cco}
\EGy{pmbcpa}{pmbcpo} \EGy{pmbcpa}{cpa}
\EGy{prcsko}{rcsko} \EGy{prcsko}{proo}
\draw[egr] (prcsko.north) .. controls (5280,470) .. (csko.south);
\EBl{faa}{cmadh} \EGy{faa}{csja}
\EBk{racsko}{acsko} \EGy{racsko}{rcsko}
\EBl{afo}{acsko} \EGy{afo}{smfo}
\EBk{rsmfo}{smfo} \EGy{aso}{acsko} \EGy{msa}{pmbcpa} \EGy{nmboa}{oa}
\EGy{rafl}{rccs} \EGy{apd}{afo} \EBk{rafo}{afo} \EGy{rafo}{racsko} \EGy{rafo}{rsmfo}
\EGy{prsmfo}{rsmfo} \EGy{prsmfo}{prcco}
\draw[egr] (prsmfo.north east) .. controls (5760,600) .. (smfo.south);
\EGy{afd}{apd} \EGy{afd}{pdep}
\EBk{rapd}{apd} \EGy{rapd}{rafl} \EGy{rapd}{rafo}
\EBk{rafd}{afd} \EGy{rafd}{rapd} \EGy{rafd}{rpdep}
\EGy{prafd}{rafd} \EGy{prafd}{prsmfo} \EGy{prafd}{prcsko}
\draw[egr] (prafd.north) .. controls (5110,860) .. (afd.south west);
\EGy{mfa}{aso} \EGy{sarco}{aso} \EGy{mfa}{nmboa} \EGy{mfa}{ccaim}
\EBl{sarco}{mfa} \EBl{mfa}{smcdev}
\EGy{gpcr}{st}
\EGy{plcg}{gpcr} \EGy{plcaa}{plcg} \EGy{plcaa}{aasp}
\EGy{aasp}{gpcr} \EBl{aasp}{crang}
\EGy{crang}{crphs} \EGy{crang}{rang}
\EGy{rang}{rph}
\EGy{crphs}{crpep} \EGy{crphs}{rph}
\draw[eg] (crphs.north) .. controls (6590,440) .. (crhs.south west);
\EGy{crpep}{rpep} \EGy{crpep}{cronc}
\EGy{rph}{rpep}
\draw[eg] (rph.east) .. controls (6930,440) .. (rhor.south);
\EGy{rpep}{ronc}
\EGy{cronc}{ronc} \EGy{cronc}{crnc} \EGy{cronc}{cros}
\EGy{crhs}{cros} \EGy{crhs}{cres} \EGy{crhs}{rhor}
\EGy{crnc}{rnc} \EGy{crnc}{crcs}
\EGy{ronc}{rnc} \EGy{ronc}{ros}
\EGy{cros}{ros} \EGy{cros}{crcs}
\EGy{cres}{res}
\EGy{rhor}{res} \EGy{rhor}{ros}
\EGy{crcs}{rchem} \EGy{crcs}{crs}
\EGy{rnc}{rchem} \EGy{ros}{rchem} \EGy{res}{rts} \EGy{rchem}{rts}
\EGy{cdp}{devp} \EGy{cdp}{cp}
\EGy{msd}{asd} \EGy{aod}{asd} \EGy{td}{asd} \EGy{mod}{asd} \EGy{mod}{mop}
\EGy{sysp}{mop} \EGy{msp}{sysp} \EGy{mcon}{msp}
\EGy{cdiff}{cdp}
\EBl{sysd}{mod} \EGy{sysd}{asd}
\draw[ebl] (mcd.north) .. controls (6985,320) .. (msd.south);
\EGy{mcd}{cdiff}
\EBl{cdev}{cdiff} \EGy{cdev}{asd}
\draw[eg] (cdev.north) .. controls (7120,330) .. (cdp.south east);
\EGy{csd}{sysd} \EGy{mtd}{td}
\EGy{smcd}{mcd} \EBl{mcdev}{mcd} \EGy{mcdev}{cdev}
\EGy{hd}{aod} \EBl{hd}{csd} \EGy{smtd}{mtd}
\EBl{smcdev}{smcd} \EGy{smcdev}{mcdev}
\EBl{cardd}{hd}
\draw[eg] (cardd.north) .. controls (7090,480) .. (cdiff.south);
\EBl{cmtd}{hd} \EGy{cmtd}{smtd}
\EGy{ccdev}{cdev} \EBl{ccdev}{cardd}
\EGy{cmcd}{cardd} \EBl{cmcd}{cmtd} \EGy{cmcd}{smcd}
\EGy{cmcdev}{ccdev} \EBl{cmcdev}{cmcd} \EGy{cmcdev}{mcdev}
\EGy{asd}{devp}
\end{pgfonlayer}
\end{tikzpicture}
\end{document}
